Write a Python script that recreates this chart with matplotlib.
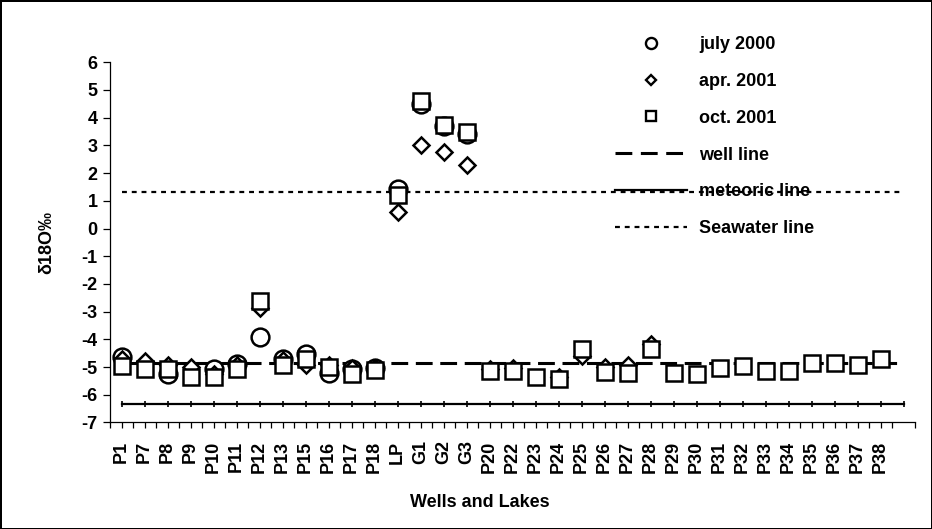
import numpy as np
import matplotlib
matplotlib.use("Agg")
import matplotlib.pyplot as plt
from matplotlib.lines import Line2D

plt.rcParams['font.family'] = ['Liberation Sans', 'DejaVu Sans']
plt.rcParams['font.weight'] = 'bold'

categories = ['P1', 'P7', 'P8', 'P9', 'P10', 'P11', 'P12', 'P13', 'P15', 'P16',
              'P17', 'P18', 'LP', 'G1', 'G2', 'G3', 'P20', 'P22', 'P23', 'P24',
              'P25', 'P26', 'P27', 'P28', 'P29', 'P30', 'P31', 'P32', 'P33', 'P34',
              'P35', 'P36', 'P37', 'P38']
nan = np.nan
july_2000 = [-4.64, nan, -5.24, nan, -5.07, -4.88, -3.90, -4.71, -4.52, -5.22,
             -5.07, -5.04, 1.43, 4.48, 3.69, 3.42, nan, nan, nan, nan,
             nan, nan, nan, nan, nan, nan, nan, nan, nan, nan,
             nan, nan, nan, nan]
apr_2001 = [-4.70, -4.80, -4.94, -5.00, -5.24, -4.94, -2.86, -4.73, -4.94, -4.94,
            -5.03, -5.03, 0.61, 3.03, 2.76, 2.30, -5.09, -5.04, nan, -5.36,
            -4.61, -5.00, -4.92, -4.16, nan, nan, nan, nan, nan, nan,
            nan, nan, nan, nan]
oct_2001 = [-4.96, -5.07, -5.07, -5.37, -5.37, -5.07, -2.61, -4.92, -4.72, -5.01,
            -5.25, -5.11, 1.22, 4.61, 3.74, 3.47, -5.16, -5.13, -5.37, -5.44,
            -4.36, -5.18, -5.23, -4.34, -5.23, -5.26, -5.04, -4.96, -5.14, -5.13,
            -4.84, -4.87, -4.92, -4.72]
well_line = -4.85
meteoric_line = -6.35
seawater_line = 1.3
y_ticks = list(range(-7, 7))

W, H = 932, 529
FS = 13
fig = plt.figure(figsize=(W / 100, H / 100), dpi=100)
fig.patch.set_edgecolor('black')
fig.patch.set_linewidth(2)
ax = fig.add_axes([110 / W, 1 - 422.4 / H, 805 / W, (422.4 - 62.3) / H])

n = len(categories)
x = np.arange(n)
x_line = np.arange(n + 1)

ax.plot(x_line, np.full(n + 1, seawater_line), color='black', lw=1.6,
        dashes=(2.2, 2.2), zorder=1)
ax.plot(x_line, np.full(n + 1, meteoric_line), color='black', lw=1.6,
        marker='|', ms=4, mew=1.2, zorder=1)
ax.plot(x_line, np.full(n + 1, well_line), color='black', lw=2.2,
        dashes=(5.5, 2.5), zorder=1)

mk = dict(ls='none', mfc='white', mec='black', mew=1.8)
ax.plot(x, july_2000, marker='o', ms=12.8, zorder=3, **mk)
ax.plot(x, apr_2001, marker='D', ms=8.3, zorder=4, **mk)
ax.plot(x, oct_2001, marker='s', ms=11.4, zorder=5, **mk)

ax.set_xlim(-0.5, n + 0.5)
ax.set_ylim(-7, 6)
ax.set_yticks(y_ticks)
ax.set_yticklabels([str(v) for v in y_ticks], fontsize=FS, fontweight='bold')
ax.set_xticks(x)
ax.set_xticklabels(categories, rotation=90, fontsize=FS, fontweight='bold')
ax.set_xticks(np.arange(-0.5, n + 1.0, 1.0), minor=True)
ax.tick_params(axis='x', which='both', direction='out', length=4, width=0.9,
               pad=9, color='black')
ax.tick_params(axis='y', direction='out', length=5, width=0.9, pad=4)
for s in ['top', 'right']:
    ax.spines[s].set_visible(False)
for s in ['left', 'bottom']:
    ax.spines[s].set_linewidth(0.9)

ax.set_ylabel('δ18O‰', fontsize=FS, fontweight='bold')
ax.yaxis.set_label_coords(-0.068, 0.5)
ax.set_xlabel('Wells and Lakes', fontsize=FS, fontweight='bold')
ax.xaxis.set_label_coords(0.46, -0.2)

handles = [
    Line2D([], [], ls='none', marker='o', ms=8, mfc='white', mec='black', mew=1.7),
    Line2D([], [], ls='none', marker='D', ms=5.6, mfc='white', mec='black', mew=1.7),
    Line2D([], [], ls='none', marker='s', ms=7.5, mfc='white', mec='black', mew=1.7),
    Line2D([], [], color='black', lw=2.2, dashes=(5.5, 2.8)),
    Line2D([], [], color='black', lw=1.6),
    Line2D([], [], color='black', lw=1.6, dashes=(2.2, 2.2)),
]
labels = ['july 2000', 'apr. 2001', 'oct. 2001', 'well line', 'meteoric line',
          'Seawater line']
fig.legend(handles, labels, loc='upper left',
           bbox_to_anchor=(615 / W, 1 - 36 / H), frameon=False,
           prop={'size': FS, 'weight': 'bold'}, handlelength=4.0,
           handletextpad=0.66, labelspacing=1.1, borderpad=0, borderaxespad=0)

fig.savefig('out.png', dpi=100)
